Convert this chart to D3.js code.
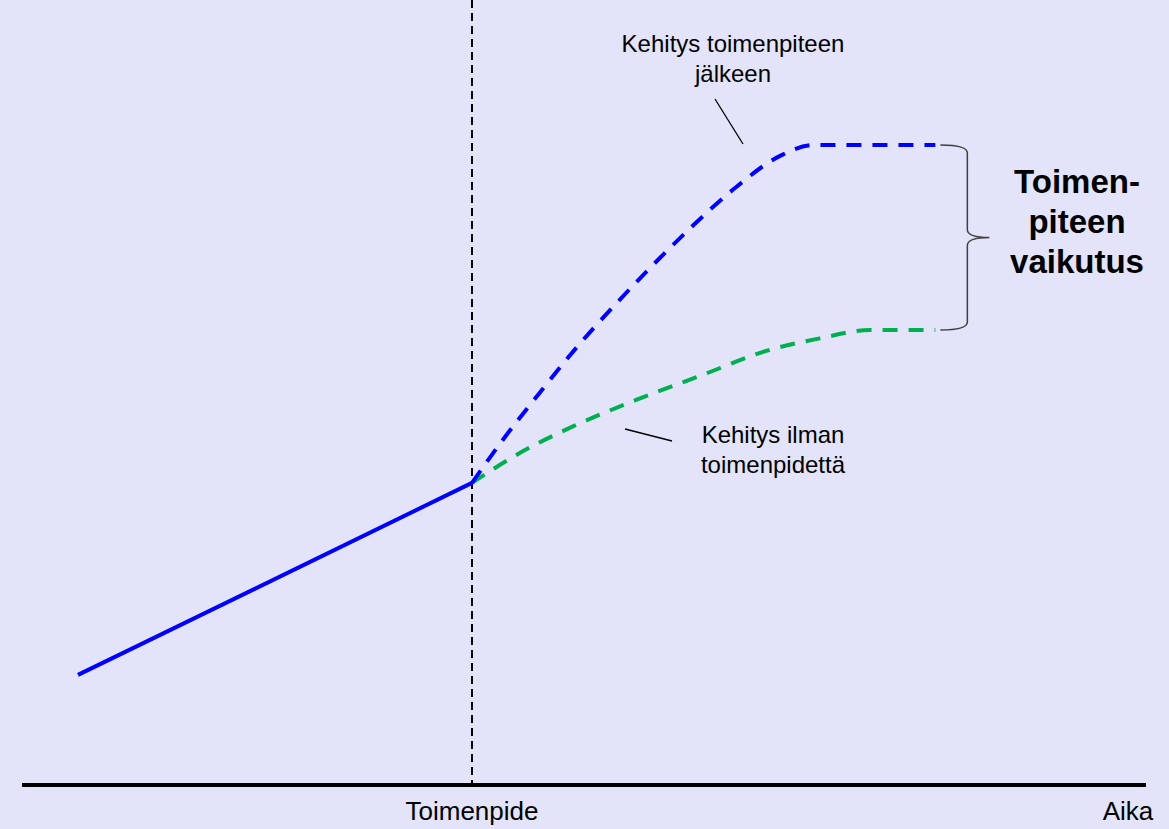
<!DOCTYPE html>
<html lang="fi">
<head>
<meta charset="UTF-8">
<title>Toimenpiteen vaikutus</title>
<script src="https://d3js.org/d3.v7.min.js"></script>
<style>
  body { margin: 0; padding: 0; background: #e3e3fa; }
  svg { display: block; }
  text { font-family: Arial, "Liberation Sans", sans-serif; fill: #000; }
</style>
</head>
<body>
<svg id="chart" width="1169" height="829"></svg>
<script>
// time (t) and value (v) in chart units; intervention happens at t = 5
const interventionTime = 5;
const endTime = 10.88;

const beforeT = [0, 5];
const beforeV = [1.72, 4.72];

// development after the intervention
const afterT = [5, 5.39, 5.86, 6.33, 6.79, 7.26, 7.77, 8.31, 8.91, 9.33, 10.88];
const afterV = [4.72, 5.39, 6.13, 6.84, 7.47, 8.08, 8.70, 9.30, 9.83, 10.0, 10.0];

// development without the intervention
const withoutT = [5, 5.61, 6.24, 7.09, 7.93, 8.78, 9.42, 10.05, 10.88];
const withoutV = [4.72, 5.19, 5.58, 6.02, 6.41, 6.80, 6.98, 7.11, 7.11];

const labelAfter = ["Kehitys toimenpiteen", "jälkeen"];
const labelWithout = ["Kehitys ilman", "toimenpidettä"];
const labelEffect = ["Toimen-", "piteen", "vaikutus"];
const xLabel = "Aika";
const markerLabel = "Toimenpide";

const svg = d3.select("#chart");

const x = d3.scaleLinear().domain([0, 5]).range([78, 472]);
const y = d3.scaleLinear().domain([0, 10]).range([785, 145]);

const zip = (ts, vs) => ts.map((t, i) => [t, vs[i]]);
const line = d3.line().x(d => x(d[0])).y(d => y(d[1]));
const curved = d3.line().x(d => x(d[0])).y(d => y(d[1])).curve(d3.curveMonotoneX);

// vertical dashed line at intervention
svg.append("line")
  .attr("x1", x(interventionTime)).attr("x2", x(interventionTime))
  .attr("y1", 0).attr("y2", y(0))
  .attr("stroke", "#000").attr("stroke-width", 2)
  .attr("stroke-dasharray", "8,5");

// time axis
svg.append("line")
  .attr("x1", 22).attr("x2", 1146)
  .attr("y1", y(0)).attr("y2", y(0))
  .attr("stroke", "#000").attr("stroke-width", 4);

// lines
svg.append("path")
  .attr("d", curved(zip(withoutT, withoutV)))
  .attr("fill", "none").attr("stroke", "#00b050").attr("stroke-width", 4)
  .attr("stroke-dasharray", "15,11");

svg.append("path")
  .attr("d", curved(zip(afterT, afterV)))
  .attr("fill", "none").attr("stroke", "#0000ff").attr("stroke-width", 4)
  .attr("stroke-dasharray", "15,11");

svg.append("path")
  .attr("d", line(zip(beforeT, beforeV)))
  .attr("fill", "none").attr("stroke", "#0000ff").attr("stroke-width", 4);

// brace between end values
const bx = x(endTime) + 5;
const yTop = y(afterV[afterV.length - 1]);
const yBot = y(withoutV[withoutV.length - 1]);
const yMid = (yTop + yBot) / 2;
const bw = 27;
svg.append("path")
  .attr("d",
    `M${bx},${yTop} Q${bx + bw},${yTop} ${bx + bw},${yTop + 8}` +
    ` L${bx + bw},${yMid - 8} Q${bx + bw},${yMid} ${bx + bw + 22},${yMid}` +
    ` Q${bx + bw},${yMid} ${bx + bw},${yMid + 8}` +
    ` L${bx + bw},${yBot - 8} Q${bx + bw},${yBot} ${bx},${yBot}`)
  .attr("fill", "none").attr("stroke", "#404040").attr("stroke-width", 1.5);

// annotation pointers
svg.append("line")
  .attr("x1", 715).attr("y1", 99).attr("x2", 743).attr("y2", 144)
  .attr("stroke", "#000").attr("stroke-width", 1.3);
svg.append("line")
  .attr("x1", 625).attr("y1", 429).attr("x2", 672).attr("y2", 441)
  .attr("stroke", "#000").attr("stroke-width", 1.3);

// texts
const addLines = (lines, cx, y0, dy, size, weight) => {
  svg.append("g").selectAll("text")
    .data(lines).enter().append("text")
    .attr("x", cx).attr("y", (d, i) => y0 + i * dy)
    .attr("text-anchor", "middle")
    .attr("font-size", size + "px")
    .attr("font-weight", weight)
    .text(d => d);
};
addLines(labelAfter, 733, 52, 30, 24, "normal");
addLines(labelWithout, 773, 443, 30, 24, "normal");
addLines(labelEffect, 1077, 193, 40, 33, "bold");

svg.append("text")
  .attr("x", x(interventionTime)).attr("y", 820)
  .attr("text-anchor", "middle").attr("font-size", "26px")
  .text(markerLabel);
svg.append("text")
  .attr("x", 1128).attr("y", 820)
  .attr("text-anchor", "middle").attr("font-size", "26px")
  .text(xLabel);
</script>
</body>
</html>
